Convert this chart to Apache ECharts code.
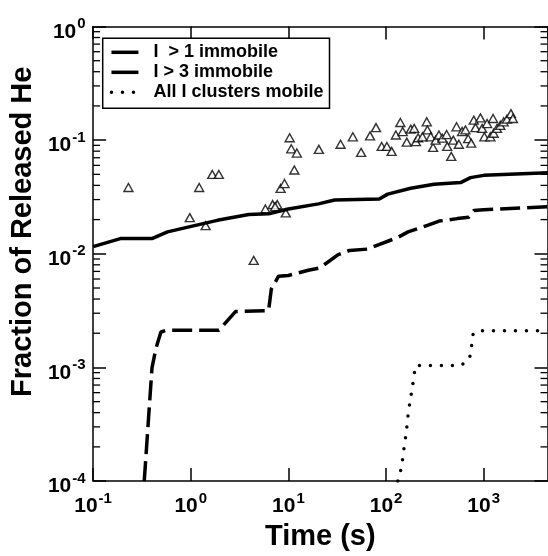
<!DOCTYPE html>
<html>
<head>
<meta charset="utf-8">
<script src="https://cdn.jsdelivr.net/npm/echarts@6/dist/echarts.min.js"></script>
<style>html,body{margin:0;padding:0;background:#fff}#c{width:548px;height:556px}</style>
</head>
<body>
<div id="c"></div>
<script>
// ---- data ----
const xTickExps = [-1, 0, 1, 2, 3];
const yTickExps = [-4, -3, -2, -1, 0];
const yMinorMult = [2, 3, 4, 5, 6, 7, 8, 9];
const yMinorDecades = [1e-4, 1e-3, 1e-2, 1e-1];

const solidT = [0.1, 0.194, 0.406, 0.578, 0.889, 1.87, 3.93, 6.27, 10.0, 20.3, 29.7, 85.3, 104, 179, 310, 580, 732, 1000, 4570];
const solidF = [0.01157, 0.01365, 0.01365, 0.0156, 0.0170, 0.0197, 0.0222, 0.0225, 0.0248, 0.0275, 0.0297, 0.0303, 0.0335, 0.0377, 0.0409, 0.0423, 0.0468, 0.049, 0.0516];

const dashT = [0.334, 0.353, 0.376, 0.401, 0.44, 0.495, 0.556, 1.94, 2.87, 6.27, 6.68, 7.93, 10.0, 16.0, 20.9, 32.1, 42.2, 64.5, 83.3, 131, 168, 265, 350, 537, 703, 791, 1000, 4570];
const dashF = [1e-4, 2.0e-4, 4.45e-4, 9.9e-4, 1.47e-3, 2.05e-3, 2.12e-3, 2.12e-3, 3.1e-3, 3.16e-3, 4.88e-3, 6.35e-3, 6.45e-3, 7.16e-3, 7.5e-3, 9.8e-3, 1.07e-2, 1.10e-2, 1.2e-2, 1.39e-2, 1.56e-2, 1.78e-2, 1.94e-2, 2.04e-2, 2.1e-2, 2.4e-2, 2.44e-2, 2.6e-2];

const dotT = [132, 145, 150, 157, 163, 168, 175, 184, 192, 200, 580, 715, 749, 780, 889, 4570];
const dotF = [1e-4, 1.36e-4, 1.75e-4, 2.29e-4, 2.94e-4, 3.8e-4, 4.88e-4, 6.3e-4, 8.1e-4, 1.04e-3, 1.04e-3, 1.18e-3, 1.53e-3, 1.99e-3, 2.1e-3, 2.1e-3];

const triT = [0.230, 0.977, 1.22, 1.42, 1.66, 1.94, 4.41, 5.81, 6.89, 7.69, 7.3, 9.4, 8.32, 9.12, 11.5, 10.3, 10.7, 12.2, 20.5,
  34.2, 45.7, 55.5, 68.5, 78.9, 90.2, 102, 114, 126, 140, 148, 163, 179, 194, 202, 213, 236, 261, 265, 287, 303, 322, 348, 377, 417, 423, 465, 488, 527, 556, 601, 650, 693, 745, 791, 824, 925, 963, 1016, 1083, 1170, 1247, 1265, 1368, 1479, 1600, 1730, 1901, 1991];
const triF = [0.0383, 0.0208, 0.0383, 0.0177, 0.0499, 0.0499, 0.00875, 0.0248, 0.0271, 0.0271, 0.026, 0.0229, 0.0376, 0.0415, 0.0546, 0.105, 0.0839, 0.077, 0.083,
  0.092, 0.107, 0.078, 0.109, 0.129, 0.088, 0.088, 0.0796, 0.111, 0.143, 0.119, 0.096, 0.125, 0.127, 0.097, 0.105, 0.107, 0.145, 0.123, 0.107, 0.0863, 0.1, 0.111, 0.104, 0.112, 0.088, 0.072, 0.1, 0.131, 0.092, 0.119, 0.123, 0.103, 0.094, 0.15, 0.129, 0.157, 0.127, 0.107, 0.14, 0.107, 0.155, 0.115, 0.127, 0.135, 0.145, 0.153, 0.171, 0.155];

const names = ['I  > 1 immobile', 'I > 3 immobile', 'All I clusters mobile'];
const xAxisTitle = 'Time (s)';
const yAxisTitle = 'Fraction of Released He';

// ---- chart ----
const FONT = 'Liberation Sans, Arial, Helvetica, sans-serif';
const xMin = 0.1, xMax = 4500, yMin = 1e-4, yMax = 1;
const zip = (a, b) => a.map((v, i) => [v, b[i]]);
const yMinor = [];
yMinorDecades.forEach(d => yMinorMult.forEach(m => yMinor.push([xMin, d * m])));

function fmt(exps) {
  return function (v) {
    const e = Math.log10(v), r = Math.round(e);
    if (Math.abs(e - r) > 1e-6 || exps.indexOf(r) < 0) return '';
    return '{b|10}{s|' + r + '}';
  };
}
const rich = {
  b: { fontFamily: FONT, fontWeight: 'bold', fontSize: 21, color: '#000', lineHeight: 23, verticalAlign: 'bottom' },
  s: { fontFamily: FONT, fontWeight: 'bold', fontSize: 15, color: '#000', lineHeight: 17, verticalAlign: 'bottom', padding: [0, 0, 11, 1] }
};
const axisLine = { show: true, onZero: false, lineStyle: { color: '#000', width: 1.5 } };
const tick = { show: true, inside: true, length: 13, lineStyle: { color: '#000', width: 1.5 } };
const hiddenSym = { color: 'rgba(0,0,0,0)', borderWidth: 0, opacity: 0 };

const chart = echarts.init(document.getElementById('c'), null, { renderer: 'canvas' });
chart.setOption({
  backgroundColor: '#fff',
  animation: false,
  grid: { left: 90.5, right: 0.5, top: 26.5, bottom: 68, containLabel: false },
  legend: {
    left: 102.7, top: 38.3, orient: 'vertical',
    padding: [4, 6, 6, 7], itemGap: 0, itemWidth: 27, itemHeight: 14,
    borderColor: '#000', borderWidth: 1.5, backgroundColor: '#fff',
    textStyle: { fontFamily: FONT, fontWeight: 'bold', fontSize: 18, color: '#000', lineHeight: 20, padding: [0, 0, 0, 10] },
    data: [
      { name: names[0], itemStyle: hiddenSym, lineStyle: { color: '#000', width: 3.5, type: 'solid' } },
      { name: names[1], itemStyle: hiddenSym, lineStyle: { color: '#000', width: 3.5, type: [27, 7] } },
      { name: names[2], itemStyle: hiddenSym, lineStyle: { color: '#000', width: 3.5, type: [0, 11], cap: 'round' } }
    ]
  },
  xAxis: [
    { type: 'log', logBase: 10, min: xMin, max: xMax, position: 'bottom',
      axisLine, axisTick: tick, splitLine: { show: false }, minorTick: { show: false },
      axisLabel: { formatter: fmt(xTickExps), rich, margin: 13, showMaxLabel: false },
      name: xAxisTitle, nameLocation: 'middle', nameGap: 37,
      nameTextStyle: { fontFamily: FONT, fontWeight: 'bold', fontSize: 29, color: '#000' } },
    { type: 'log', logBase: 10, min: xMin, max: xMax, position: 'top',
      axisLine, axisTick: tick, axisLabel: { show: false }, splitLine: { show: false } }
  ],
  yAxis: [
    { type: 'log', logBase: 10, min: yMin, max: yMax, position: 'left',
      axisLine, axisTick: tick, splitLine: { show: false },
      axisLabel: { formatter: fmt(yTickExps), rich, margin: 7.5, padding: [9, 0, 0, 0] },
      name: yAxisTitle, nameLocation: 'middle', nameGap: 52,
      nameTextStyle: { fontFamily: FONT, fontWeight: 'bold', fontSize: 29, color: '#000', padding: [0, 0, 0, 44] } },
    { type: 'log', logBase: 10, min: yMin, max: yMax, position: 'right',
      axisLine, axisTick: tick, axisLabel: { show: false }, splitLine: { show: false } }
  ],
  series: [
    { type: 'custom', silent: true, z: 5, clip: false, data: yMinor,
      renderItem: function (params, api) {
        const v = api.value(1);
        const l = api.coord([xMin, v]);
        const r = api.coord([xMax, v]);
        return { type: 'group', children: [
          { type: 'line', shape: { x1: l[0], y1: l[1], x2: l[0] + 7, y2: l[1] }, style: { stroke: '#000', lineWidth: 1.3 } },
          { type: 'line', shape: { x1: r[0], y1: r[1], x2: r[0] - 7, y2: r[1] }, style: { stroke: '#000', lineWidth: 1.3 } }
        ] };
      } },
    { type: 'scatter', name: 'data', z: 2, data: zip(triT, triF), symbol: 'triangle', symbolSize: [9, 8],
      itemStyle: { color: '#fff', borderColor: '#000', borderWidth: 1.4 } },
    { type: 'line', name: names[0], z: 3, data: zip(solidT, solidF), symbol: 'none', showSymbol: false,
      lineStyle: { color: '#000', width: 3.5, type: 'solid' }, itemStyle: { color: '#000' } },
    { type: 'line', name: names[1], z: 3, data: zip(dashT, dashF), symbol: 'none', showSymbol: false,
      lineStyle: { color: '#000', width: 3.5, type: [20, 7] }, itemStyle: { color: '#000' } },
    { type: 'line', name: names[2], z: 3, data: zip(dotT, dotF), symbol: 'none', showSymbol: false,
      lineStyle: { color: '#000', width: 3.5, type: [0, 11], cap: 'round' }, itemStyle: { color: '#000' } }
  ]
});
</script>
</body>
</html>
